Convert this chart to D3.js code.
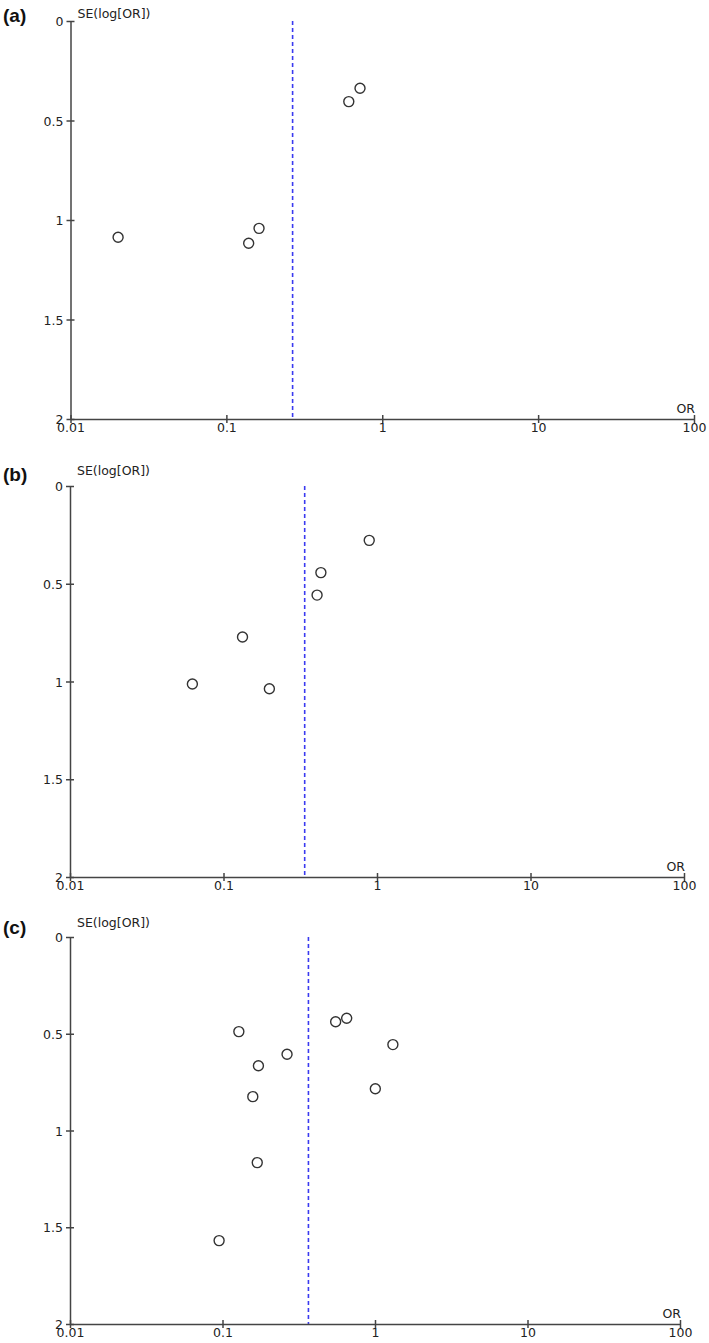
<!DOCTYPE html>
<html>
<head>
<meta charset="utf-8">
<script src="https://cdn.jsdelivr.net/npm/d3@7"></script>
<style>
  body { margin: 0; background: #fff; }
  svg { display: block; }
  .tick text { font-family: "DejaVu Sans", sans-serif; font-size: 12.5px; fill: #222; }
</style>
</head>
<body>
<div id="chart"></div>
<script>
// funnel plot data (OR on log axis, SE of log OR)
var panelNames = ["(a)", "(b)", "(c)"];
var orA = [0.72, 0.61, 0.162, 0.139, 0.0202];
var seA = [0.338, 0.405, 1.042, 1.117, 1.087];
var orB = [0.89, 0.431, 0.407, 0.133, 0.0627, 0.199];
var seB = [0.278, 0.443, 0.558, 0.772, 1.013, 1.037];
var orC = [0.128, 0.552, 0.652, 1.31, 0.265, 0.172, 0.158, 1.005, 0.169, 0.095];
var seC = [0.489, 0.438, 0.42, 0.556, 0.606, 0.665, 0.825, 0.784, 1.166, 1.569];
var pooledOR = [0.266, 0.338, 0.366];
var xTicks = [0.01, 0.1, 1, 10, 100];
var xTickLabels = ["0.01", "0.1", "1", "10", "100"];
var yTicks = [0, 0.5, 1, 1.5, 2];

// pixel box of each panel (left, right, top of SE=0, bottom SE=2, se label lift)
var boxes = [
  {l: 70.5, r: 694, t: 21, b: 419, lift: 3, lab: 22},
  {l: 70, r: 684, t: 486, b: 877, lift: 11, lab: 481},
  {l: 70, r: 680, t: 937, b: 1324, lift: 10, lab: 934}
];

var svg = d3.select("#chart").append("svg")
  .attr("width", 709)
  .attr("height", 1343);

function drawPanel(i, ors, ses) {
  var bx = boxes[i];
  var x = d3.scaleLog().domain([0.01, 100]).range([bx.l, bx.r]);
  var y = d3.scaleLinear().domain([0, 2]).range([bx.t, bx.b]);
  var g = svg.append("g");

  // pooled estimate line
  g.append("line")
    .attr("x1", x(pooledOR[i])).attr("x2", x(pooledOR[i]))
    .attr("y1", y(0)).attr("y2", y(2))
    .attr("stroke", "#3a3af0")
    .attr("stroke-width", 1.6)
    .attr("stroke-dasharray", "4,3");

  var yAxis = g.append("g")
    .attr("transform", "translate(" + x(0.01) + ",0)")
    .call(d3.axisLeft(y).tickValues(yTicks).tickSize(4).tickSizeOuter(0).tickPadding(3)
      .tickFormat(function(d) { return d; }));
  yAxis.selectAll(".tick line").attr("x1", 4);
  yAxis.selectAll(".tick text").attr("dy", "0.36em");

  var xAxis = g.append("g")
    .attr("transform", "translate(0," + y(2) + ")")
    .call(d3.axisBottom(x).tickValues(xTicks).tickSize(4).tickSizeOuter(0).tickPadding(0)
      .tickFormat(function(d, j) { return xTickLabels[j]; }));
  xAxis.selectAll(".tick line").attr("y1", -4);

  g.selectAll(".domain, .tick line").attr("stroke", "#444").attr("stroke-width", 1.5);

  g.append("text")
    .attr("x", x(0.01) + 7).attr("y", y(0) - bx.lift)
    .attr("font-family", "DejaVu Sans, sans-serif").attr("font-size", 12.5).attr("fill", "#222")
    .text("SE(log[OR])");
  g.append("text")
    .attr("x", x(100) + 1).attr("y", y(2) - 6)
    .attr("text-anchor", "end")
    .attr("font-family", "DejaVu Sans, sans-serif").attr("font-size", 12.5).attr("fill", "#222")
    .text("OR");
  g.append("text")
    .attr("x", 3).attr("y", bx.lab)
    .attr("font-family", "Liberation Sans, Arial, sans-serif").attr("font-weight", "bold")
    .attr("font-size", 19).attr("fill", "#111")
    .text(panelNames[i]);

  g.selectAll("circle.pt")
    .data(d3.zip(ors, ses))
    .enter().append("circle")
    .attr("class", "pt")
    .attr("cx", function(d) { return x(d[0]); })
    .attr("cy", function(d) { return y(d[1]); })
    .attr("r", 5)
    .attr("fill", "none")
    .attr("stroke", "#333")
    .attr("stroke-width", 1.4);
}

drawPanel(0, orA, seA);
drawPanel(1, orB, seB);
drawPanel(2, orC, seC);
</script>
</body>
</html>
